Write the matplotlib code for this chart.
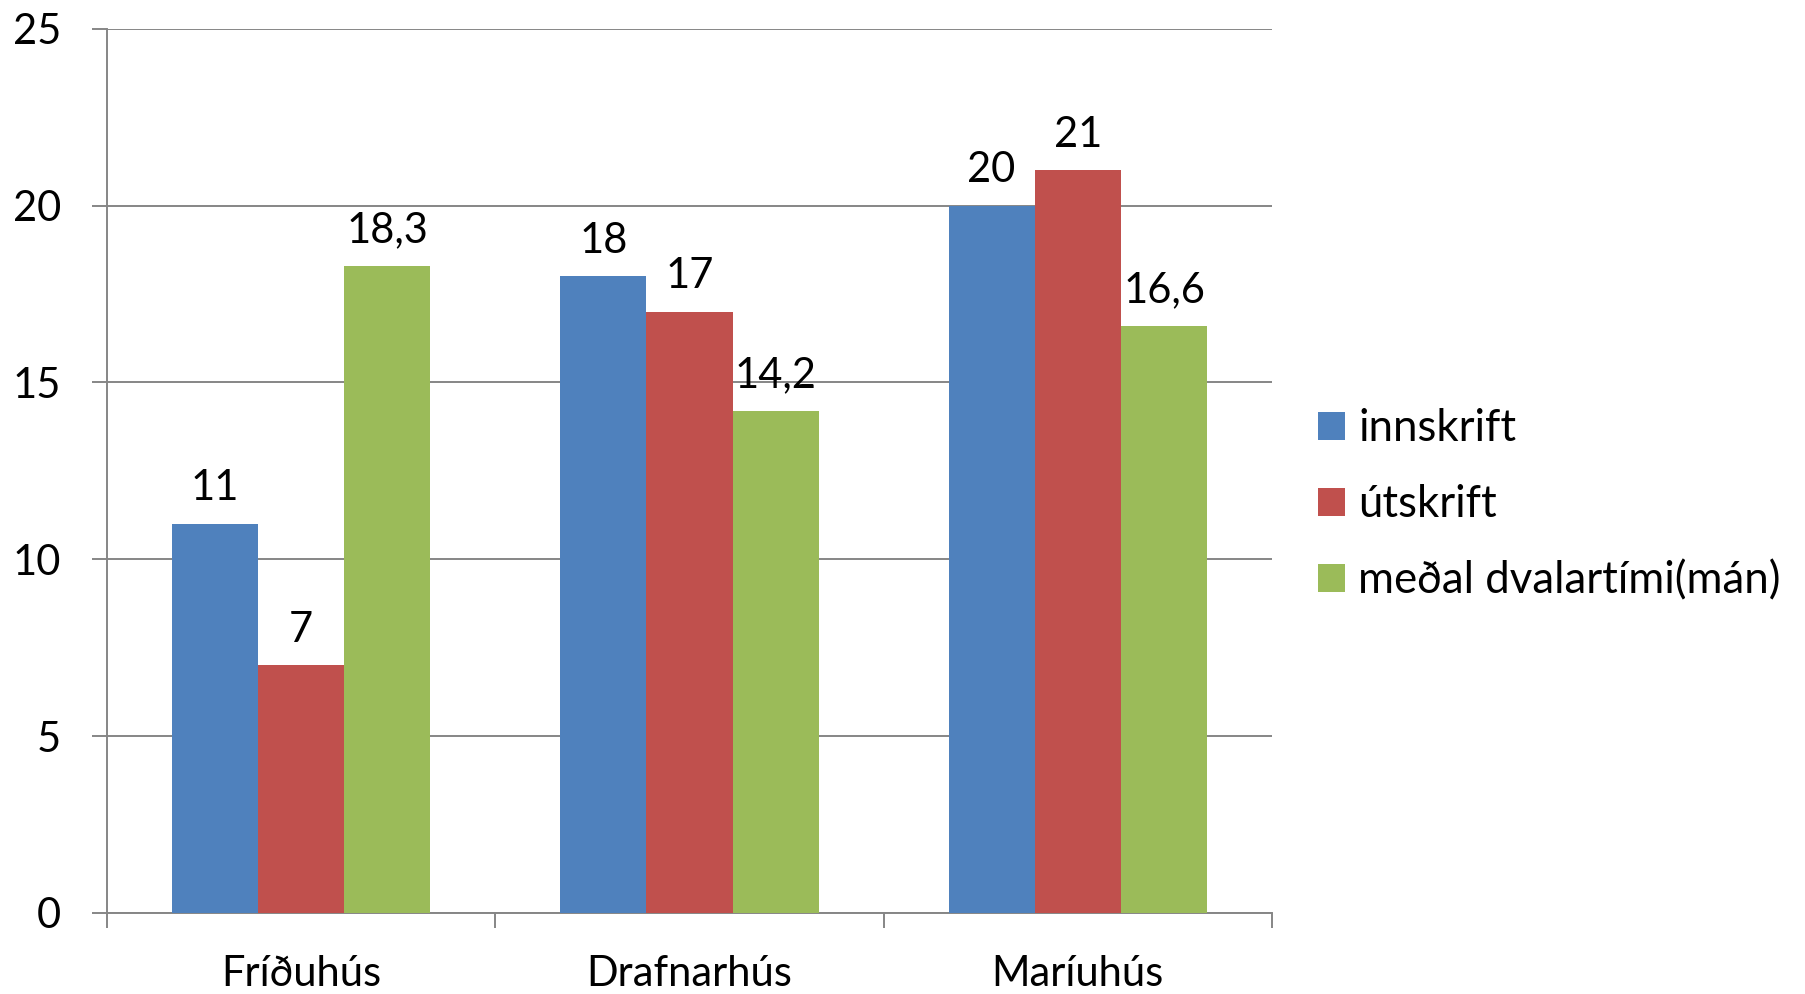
import matplotlib
matplotlib.use("Agg")
import matplotlib.pyplot as plt
import numpy as np

categories = ["Fríðuhús", "Drafnarhús", "Maríuhús"]
series_names = ["innskrift", "útskrift", "meðal dvalartími(mán)"]
innskrift = [11, 18, 20]
utskrift = [7, 17, 21]
medal = [18.3, 14.2, 16.6]
yticks = [0, 5, 10, 15, 20, 25]
colors = ["#4F81BD", "#C0504D", "#9BBB59"]

plt.rcParams['font.family'] = ['Lato', 'DejaVu Sans']
FS = 30
LFS = 31.5
grid_c = "#868686"

fig = plt.figure(figsize=(18.06, 9.94), dpi=100)
ax = fig.add_axes([107/1806, 1 - 913/994, (1272-107)/1806, (913-28.7)/994])

x = np.arange(len(categories))
w = 0.222
data = [innskrift, utskrift, medal]
for i, (vals, name, c) in enumerate(zip(data, series_names, colors)):
    bars = ax.bar(x + (i - 1) * w, vals, width=w, color=c, label=name, zorder=3)
    labels = [("%g" % v).replace(".", ",") for v in vals]
    ax.bar_label(bars, labels=labels, padding=12, fontsize=FS, color="black")

ax.set_xlim(-0.5, 2.5)
ax.set_ylim(0, 25)
ax.set_yticks(yticks)
ax.set_yticklabels([str(t) for t in yticks], fontsize=FS)
ax.yaxis.grid(True, color=grid_c, linewidth=1.4, zorder=0)
ax.tick_params(axis='y', length=11, width=1.4, color=grid_c, pad=22)

ax.set_xticks([-0.5, 0.5, 1.5, 2.5])
ax.set_xticklabels([])
ax.set_xticks(x, minor=True)
ax.set_xticklabels(categories, minor=True, fontsize=FS)
ax.tick_params(axis='x', which='major', length=11, width=1.4, color=grid_c)
ax.tick_params(axis='x', which='minor', length=0, pad=30)

for s in ["top", "right"]:
    ax.spines[s].set_visible(False)
for s in ["left", "bottom"]:
    ax.spines[s].set_color(grid_c)
    ax.spines[s].set_linewidth(1.4)
ax.set_axisbelow(True)

ax.legend(loc="center left", bbox_to_anchor=(1318/1806, 1 - 505/994),
          bbox_transform=fig.transFigure, frameon=False, fontsize=LFS,
          handlelength=0.62, handleheight=0.62, handletextpad=0.3,
          labelspacing=0.8, borderaxespad=0, borderpad=0)

fig.savefig("out.png", dpi=100)
